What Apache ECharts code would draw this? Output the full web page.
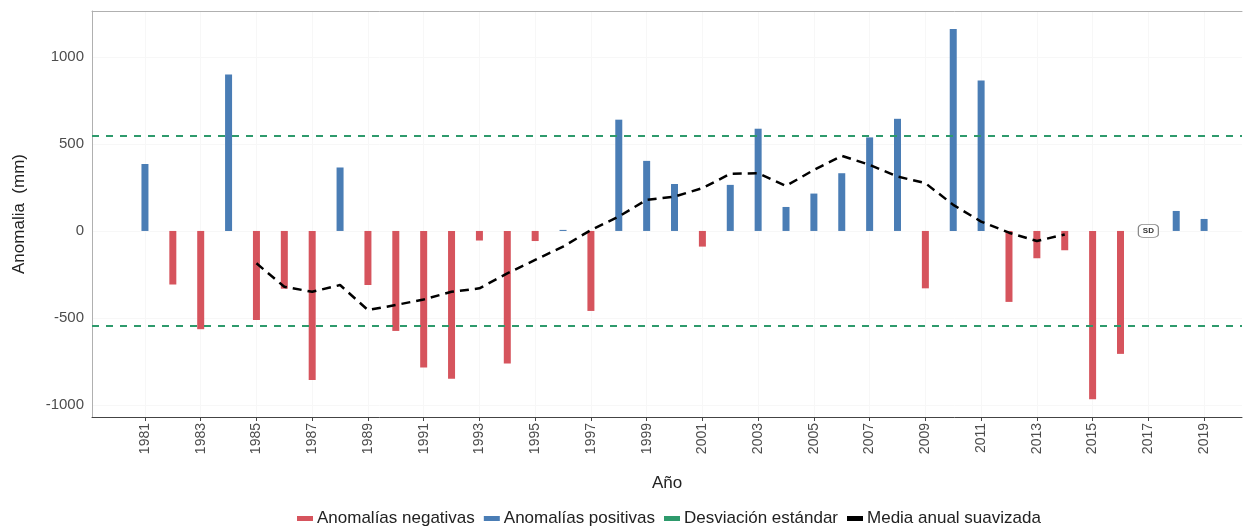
<!DOCTYPE html>
<html>
<head>
<meta charset="utf-8">
<script src="https://cdn.jsdelivr.net/npm/echarts@6/dist/echarts.min.js"></script>
<style>
  html, body { margin: 0; padding: 0; background: #fff; }
  #chart { width: 1248px; height: 529px; }
</style>
</head>
<body>
<div id="chart"></div>
<script>
// años y anomalías de precipitación (mm)
var years = [1981, 1982, 1983, 1984, 1985, 1986, 1987, 1988, 1989, 1990,
             1991, 1992, 1993, 1994, 1995, 1996, 1997, 1998, 1999, 2000,
             2001, 2002, 2003, 2004, 2005, 2006, 2007, 2008, 2009, 2010,
             2011, 2012, 2013, 2014, 2015, 2016, 2017, 2018, 2019];
var anomalies = [385, -308, -565, 900, -512, -332, -857, 365, -311, -575,
                 -785, -850, -55, -763, -58, 6, -460, 640, 403, 270,
                 -90, 265, 588, 138, 215, 332, 538, 645, -330, 1162,
                 866, -408, -157, -111, -968, -707, null, 115, 69];

// media anual suavizada
var smoothYears = [1985, 1986, 1987, 1988, 1989, 1990, 1991, 1992, 1993, 1994,
                   1995, 1996, 1997, 1998, 1999, 2000, 2001, 2002, 2003, 2004,
                   2005, 2006, 2007, 2008, 2009, 2010, 2011, 2012, 2013, 2014];
var smoothValues = [-186, -321, -350, -311, -455, -426, -394, -350, -330, -244,
                    -167, -90, 5, 83, 179, 198, 246, 329, 332, 259,
                    351, 432, 380, 313, 275, 150, 54, -10, -58, -20];

var sdValue = 548;
var sdLabelYear = 2017;

var xTicks = [1981, 1983, 1985, 1987, 1989, 1991, 1993, 1995, 1997, 1999,
              2001, 2003, 2005, 2007, 2009, 2011, 2013, 2015, 2017, 2019];
var yTicks = [-1000, -500, 0, 500, 1000];

var RED = '#d6545d', BLUE = '#4a7db5', GREEN = '#2e9a6c', BLACK = '#000';

var negData = [], posData = [];
years.forEach(function (y, i) {
    var v = anomalies[i];
    if (v === null) return;
    if (v < 0) negData.push([y, v]);
    else posData.push([y, v]);
});
var smoothData = smoothYears.map(function (y, i) { return [y, smoothValues[i]]; });

var chart = echarts.init(document.getElementById('chart'));
var font = 'Liberation Sans, Arial, sans-serif';

chart.setOption({
    animation: false,
    textStyle: { fontFamily: font },
    grid: { left: 92, right: 6, top: 11, bottom: 112 },
    legend: {
        bottom: 2,
        left: 297,
        padding: 0,
        itemWidth: 16,
        itemHeight: 5,
        itemGap: 9,
        textStyle: { fontSize: 17, color: '#222', fontFamily: font, padding: [0, 0, 0, -1] },
        data: [
            { name: 'Anomalías negativas', icon: 'rect', itemStyle: { color: RED } },
            { name: 'Anomalías positivas', icon: 'rect', itemStyle: { color: BLUE } },
            { name: 'Desviación estándar', icon: 'rect', itemStyle: { color: GREEN } },
            { name: 'Media anual suavizada', icon: 'rect', itemStyle: { color: BLACK } }
        ]
    },
    xAxis: [{
        type: 'value',
        min: 1979.1,
        max: 2020.36,
        name: 'Año',
        nameLocation: 'middle',
        nameGap: 58,
        nameTextStyle: { fontSize: 17, color: '#222' },
        axisLine: { show: true, onZero: false, lineStyle: { color: '#444', width: 1 } },
        axisTick: { show: true, customValues: xTicks, length: 4, lineStyle: { color: '#444' } },
        axisLabel: {
            customValues: xTicks,
            rotate: 90,
            fontSize: 14,
            color: '#4d4d4d',
            margin: 6,
            formatter: function (v) { return String(v); }
        },
        splitLine: { show: true, lineStyle: { color: '#f7f7f7' } }
    }, {
        type: 'value',
        position: 'top',
        min: 1979.1,
        max: 2020.36,
        axisLine: { show: true, onZero: false, lineStyle: { color: '#b0b0b0', width: 1 } },
        axisTick: { show: false },
        axisLabel: { show: false },
        splitLine: { show: false }
    }],
    yAxis: {
        type: 'value',
        min: -1070,
        max: 1265,
        name: 'Anomalia  (mm)',
        nameLocation: 'middle',
        nameGap: 64,
        nameTextStyle: { fontSize: 17, color: '#222' },
        axisLine: { show: true, lineStyle: { color: '#b0b0b0', width: 1 } },
        axisTick: { show: false, customValues: yTicks },
        axisLabel: {
            customValues: yTicks,
            fontSize: 15,
            color: '#4d4d4d',
            margin: 8,
            formatter: function (v) { return String(v); }
        },
        splitLine: { show: true, lineStyle: { color: '#f7f7f7' } }
    },
    series: [{
        name: 'Anomalías negativas',
        type: 'bar',
        data: negData,
        barWidth: 7,
        barGap: '-100%',
        itemStyle: { color: RED }
    }, {
        name: 'Anomalías positivas',
        type: 'bar',
        data: posData,
        barWidth: 7,
        barGap: '-100%',
        itemStyle: { color: BLUE }
    }, {
        name: 'Desviación estándar',
        type: 'line',
        data: [],
        itemStyle: { color: GREEN },
        markLine: {
            silent: true,
            symbol: 'none',
            label: { show: false },
            lineStyle: { color: GREEN, type: [7, 7], width: 2 },
            data: [{ yAxis: sdValue }, { yAxis: -sdValue }]
        },
        markPoint: {
            silent: true,
            symbol: 'roundRect',
            symbolSize: [20, 13],
            itemStyle: { color: '#fff', borderColor: '#888', borderWidth: 1 },
            label: { show: true, formatter: 'SD', fontSize: 8, color: '#333', fontWeight: 'bold' },
            data: [{ coord: [sdLabelYear, 0] }]
        }
    }, {
        name: 'Media anual suavizada',
        type: 'line',
        data: smoothData,
        showSymbol: false,
        symbol: 'none',
        itemStyle: { color: BLACK },
        lineStyle: { color: BLACK, width: 2.5, type: [9, 6] },
        z: 5
    }]
});
</script>
</body>
</html>
